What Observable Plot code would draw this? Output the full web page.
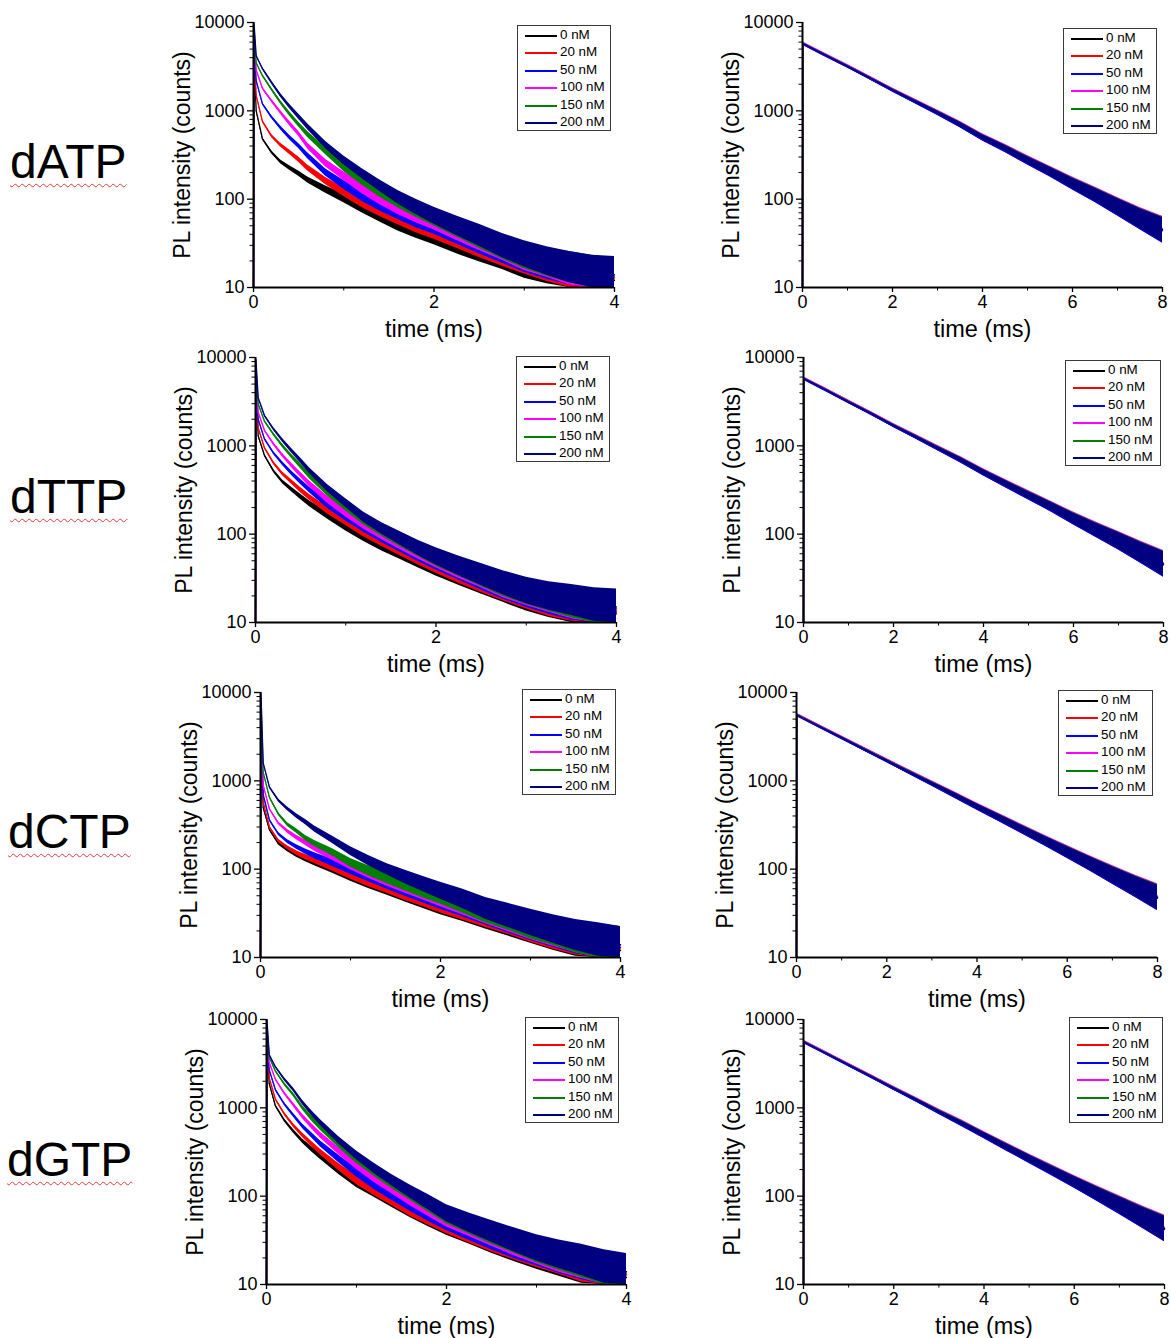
<!DOCTYPE html>
<html>
<head>
<meta charset="utf-8">
<script src="https://cdn.jsdelivr.net/npm/d3@7"></script>
<script src="https://cdn.jsdelivr.net/npm/@observablehq/plot@0.6"></script>
<style>
  body { margin: 0; background: #fff; }
  #page { position: relative; width: 1171px; height: 1338px; overflow: hidden; background: #fff;
          font-family: "Liberation Sans", Arial, sans-serif; color: #000; }
  .panel { position: absolute; }
  .panel svg { overflow: visible; max-width: none; display: block; }
  .nuc { position: absolute; font-size: 48px; line-height: 48px; white-space: nowrap;
         text-decoration: underline wavy #e03a3a; text-decoration-thickness: 1px; text-underline-offset: 5px; }
  .legend { position: absolute; box-sizing: border-box; border: 1.5px solid #3a3a3a; background: #fff; }
  .legend .row { position: absolute; left: 0; height: 16px; width: 100%; }
  .legend .sw { position: absolute; left: 7px; width: 32px; top: 8px; height: 1.6px; }
  .legend .lb { position: absolute; left: 42px; top: 0; font-size: 13.4px; line-height: 16px; white-space: nowrap; }
</style>
</head>
<body>
<div id="page"></div>
<script>
// ---------------- data ----------------
const nucleotides = ["dATP", "dTTP", "dCTP", "dGTP"];
const concentrations = ["0 nM", "20 nM", "50 nM", "100 nM", "150 nM", "200 nM"];
const seriesColors = ["#000000", "#ff0000", "#0000ff", "#ff00ff", "#008000", "#000080"];

const yMajorTicks = [10, 100, 1000, 10000];
const yMinorTicks = [20, 30, 40, 50, 60, 70, 80, 90, 200, 300, 400, 500, 600, 700, 800, 900,
                     2000, 3000, 4000, 5000, 6000, 7000, 8000, 9000];
const xMajorShort = [0, 2, 4];
const xMinorShort = [1, 3];
const xMajorLong = [0, 2, 4, 6, 8];
const xMinorLong = [1, 3, 5, 7];

// left column: time (ms) 0..4
const timeShort = [0, 0.005, 0.03, 0.1, 0.2, 0.3, 0.4, 0.5, 0.6, 0.8, 1.0, 1.2, 1.4, 1.6, 1.8, 2.0, 2.25, 2.5, 2.75, 3.0, 3.25, 3.5, 3.75, 4.0];
// spread (x / ÷) of the noisy traces
const noiseShort = [1, 1, 1.02, 1.03, 1.04, 1.05, 1.06, 1.07, 1.08, 1.1, 1.12, 1.14, 1.16, 1.19, 1.22, 1.25, 1.29, 1.33, 1.37, 1.41, 1.45, 1.5, 1.55, 1.6];

const dATP_0   = [10, 4000, 1000, 480, 340, 265, 225, 195, 165, 128, 102, 80, 64, 52, 44, 38, 31, 26, 22, 18, 16, 14, 13, 12];
const dATP_20  = [10, 6000, 1500, 760, 520, 410, 340, 280, 225, 160, 120, 92, 74, 61, 51, 44, 36, 29, 24, 20, 17, 15, 13.5, 12.5];
const dATP_50  = [10, 7000, 2200, 1200, 850, 640, 500, 400, 310, 200, 145, 108, 85, 70, 58, 50, 40, 32, 26, 21, 18, 16, 14, 13];
const dATP_100 = [10, 8000, 2900, 1800, 1300, 960, 720, 550, 400, 255, 182, 132, 100, 80, 66, 56, 44, 35, 28, 22, 19, 16, 14.5, 13];
const dATP_150 = [10, 9000, 3500, 2500, 1750, 1250, 920, 700, 540, 350, 230, 165, 122, 95, 76, 62, 48, 37, 29, 23, 19.5, 17, 15, 13.5];
const dATP_200 = [10, 10000, 4200, 3000, 2100, 1500, 1120, 860, 660, 410, 275, 195, 142, 105, 82, 65, 50, 39, 30, 24, 20, 17, 15, 14];

const dTTP_0   = [10, 4500, 1300, 780, 520, 390, 320, 265, 220, 162, 122, 94, 75, 62, 51, 42, 34, 28, 23, 19, 16.5, 15, 13.5, 12.5];
const dTTP_20  = [10, 5000, 1600, 950, 640, 480, 390, 315, 260, 185, 140, 106, 84, 68, 55, 45, 36, 29, 24, 20, 17, 15.5, 14, 13];
const dTTP_50  = [10, 6000, 2000, 1200, 830, 630, 490, 390, 315, 215, 158, 120, 93, 75, 60, 49, 39, 31, 25, 21, 18, 16, 14.5, 13.5];
const dTTP_100 = [10, 7000, 2400, 1500, 1050, 780, 600, 470, 370, 245, 175, 130, 100, 80, 64, 52, 41, 33, 26, 22, 19, 16.5, 15, 14];
const dTTP_150 = [10, 8000, 3000, 1900, 1350, 1000, 760, 590, 455, 295, 205, 145, 110, 86, 68, 54, 43, 34, 27, 22.5, 19.5, 17, 15.5, 14.5];
const dTTP_200 = [10, 9500, 3500, 2200, 1550, 1150, 880, 680, 520, 330, 225, 155, 116, 90, 70, 56, 44, 35, 28, 23, 20, 18, 16, 15];

const dCTP_0   = [10, 3500, 500, 280, 195, 165, 145, 130, 118, 99, 82, 69, 59, 51, 44, 38, 33, 28, 24, 20.5, 17.5, 15.5, 13.5, 12];
const dCTP_20  = [10, 4000, 580, 300, 210, 175, 152, 137, 125, 104, 86, 72, 62, 53, 46, 40, 34, 29, 25, 21, 18, 16, 14, 12.5];
const dCTP_50  = [10, 5000, 700, 360, 250, 205, 178, 158, 142, 118, 98, 82, 69, 59, 51, 44, 37, 31, 26, 22, 19, 16.5, 14.5, 13];
const dCTP_100 = [10, 6000, 900, 480, 330, 268, 228, 198, 172, 138, 110, 90, 75, 64, 55, 47, 39, 32, 27, 22.5, 19.5, 17, 15, 13.5];
const dCTP_150 = [10, 8000, 1250, 650, 420, 320, 270, 225, 195, 155, 118, 96, 80, 68, 58, 50, 41, 33, 28, 23, 20, 17, 15.5, 14];
const dCTP_200 = [10, 10000, 1600, 850, 600, 480, 400, 340, 285, 215, 160, 125, 100, 82, 68, 57, 46, 36, 30, 25, 21, 18, 16, 14];

const dGTP_0   = [10, 5000, 1900, 1050, 720, 540, 420, 340, 280, 195, 140, 110, 86, 68, 55, 45, 37, 30, 25, 21, 18, 15.5, 13.5, 12];
const dGTP_20  = [10, 6000, 2200, 1250, 850, 630, 490, 390, 315, 215, 152, 115, 90, 70, 57, 47, 38, 31, 26, 22, 19, 16, 14, 12.5];
const dGTP_50  = [10, 7000, 2700, 1600, 1100, 820, 620, 490, 390, 265, 185, 135, 103, 80, 63, 51, 41, 33, 27, 23, 19.5, 17, 14.5, 13];
const dGTP_100 = [10, 8000, 3300, 2100, 1450, 1080, 800, 620, 490, 325, 225, 162, 122, 92, 72, 56, 45, 36, 29, 24, 20, 17.5, 15, 13];
const dGTP_150 = [10, 9000, 3800, 2600, 1850, 1400, 1000, 760, 600, 390, 265, 190, 140, 106, 80, 61, 48, 38, 31, 25, 21, 18, 15.5, 13.5];
const dGTP_200 = [10, 10000, 4000, 2900, 2100, 1600, 1150, 870, 680, 430, 290, 205, 150, 112, 85, 64, 50, 40, 32, 26, 22, 19, 16, 14];

// right column: time (ms) 0..8, the six traces overlap almost exactly
const timeLong = [0, 0.005, 0.5, 1, 1.5, 2, 2.5, 3, 3.5, 4, 4.5, 5, 5.5, 6, 6.5, 7, 7.5, 8];
const noiseLong = [1, 1, 1.01, 1.015, 1.02, 1.025, 1.035, 1.045, 1.06, 1.07, 1.085, 1.1, 1.12, 1.15, 1.19, 1.24, 1.3, 1.38];
const dATP_long = [10, 5800, 4300, 3200, 2350, 1720, 1280, 950, 700, 500, 375, 275, 205, 150, 112, 82, 60, 45];
const dTTP_long = [10, 5800, 4300, 3150, 2330, 1700, 1260, 930, 690, 500, 370, 275, 205, 150, 112, 84, 62, 46];
const dCTP_long = [10, 5600, 4150, 3080, 2280, 1690, 1250, 930, 690, 510, 380, 282, 210, 156, 116, 86, 64, 48];
const dGTP_long = [10, 5600, 4150, 3060, 2260, 1660, 1230, 900, 670, 490, 360, 265, 196, 145, 107, 79, 58, 43];
// small per-concentration offsets seen at the edges of the overlapping traces
const longOffsets = [0.99, 0.98, 0.975, 1.03, 1.01, 1.0];

// ---------------- layout ----------------
const page = document.getElementById("page");
const FONT = "Liberation Sans, Arial, sans-serif";

function drawPanel(cfg) {
  const mL = 100, mR = 16, mT = 14, mB = 58;
  const w = cfg.R - cfg.L, h = cfg.B - cfg.T;
  const W = w + mL + mR, H = h + mT + mB;
  const marks = [];
  cfg.series.forEach((vals, i) => {
    const rows = cfg.time.map((t, j) => ({
      t,
      v: vals[j],
      lo: Math.max(10, vals[j] / cfg.noise[j]),
      hi: Math.min(10000, vals[j] * cfg.noise[j])
    }));
    marks.push(Plot.areaY(rows, {x: "t", y1: "lo", y2: "hi", fill: seriesColors[i]}));
    marks.push(Plot.lineY(rows, {x: "t", y: "v", stroke: seriesColors[i], strokeWidth: 1.3}));
  });
  marks.push(
    Plot.axisY({ticks: yMinorTicks, tickSize: 3.5, tickFormat: () => "", label: null, strokeWidth: 1}),
    Plot.axisY({ticks: yMajorTicks, tickSize: 6, tickPadding: 3, tickFormat: d => String(d), label: null,
                fontSize: 18, strokeWidth: 1.3}),
    Plot.axisX({ticks: cfg.xMinor, tickSize: 3.5, tickFormat: () => "", label: null, strokeWidth: 1}),
    Plot.axisX({ticks: cfg.xMajor, tickSize: 5, tickPadding: 3, tickFormat: d => String(d), label: null,
                fontSize: 18, strokeWidth: 1.3}),
    Plot.ruleX([0], {stroke: "#000", strokeWidth: 2}),
    Plot.ruleY([10], {stroke: "#000", strokeWidth: 2}),
    Plot.text(["PL intensity (counts)"], {text: d => d, frameAnchor: "left", textAnchor: "middle", lineAnchor: "middle",
                                          rotate: -90, dx: -71, fontSize: 23}),
    Plot.text(["time (ms)"], {text: d => d, frameAnchor: "bottom", textAnchor: "middle", lineAnchor: "middle",
                              dy: 42, fontSize: 23.5})
  );
  const svg = Plot.plot({
    width: W,
    height: H,
    marginLeft: mL, marginRight: mR, marginTop: mT, marginBottom: mB,
    x: {domain: [0, cfg.xMax]},
    y: {type: "log", domain: [10, 10000]},
    style: {fontFamily: FONT, fontSize: "18px", color: "#000", background: "transparent", overflow: "visible", maxWidth: "none"},
    marks
  });
  const div = document.createElement("div");
  div.className = "panel";
  div.style.left = (cfg.L - mL) + "px";
  div.style.top = (cfg.T - mT) + "px";
  div.style.width = W + "px";
  div.style.height = H + "px";
  div.appendChild(svg);
  page.appendChild(div);

  // legend
  const lg = document.createElement("div");
  lg.className = "legend";
  Object.assign(lg.style, {left: cfg.lg[0] + "px", top: cfg.lg[1] + "px", width: cfg.lg[2] + "px", height: cfg.lg[3] + "px"});
  concentrations.forEach((c, i) => {
    const row = document.createElement("div");
    row.className = "row";
    row.style.top = Math.round(1 + i * 17.4) + "px";
    const sw = document.createElement("div");
    sw.className = "sw";
    sw.style.background = seriesColors[i];
    const lb = document.createElement("div");
    lb.className = "lb";
    lb.textContent = c;
    row.appendChild(sw);
    row.appendChild(lb);
    lg.appendChild(row);
  });
  page.appendChild(lg);
}

const shortSets = [
  [dATP_0, dATP_20, dATP_50, dATP_100, dATP_150, dATP_200],
  [dTTP_0, dTTP_20, dTTP_50, dTTP_100, dTTP_150, dTTP_200],
  [dCTP_0, dCTP_20, dCTP_50, dCTP_100, dCTP_150, dCTP_200],
  [dGTP_0, dGTP_20, dGTP_50, dGTP_100, dGTP_150, dGTP_200]
];
const longSets = [dATP_long, dTTP_long, dCTP_long, dGTP_long];

const leftFrames  = [[253, 614, 22, 287], [255, 616, 357, 622], [260, 620, 692, 957], [266, 626, 1019, 1284]];
const rightFrames = [[802, 1162, 22, 287], [803, 1163, 357, 622], [796, 1157, 692, 957], [803, 1164, 1019, 1284]];
const leftLegends  = [[517, 25, 94, 106], [516, 356, 94, 106], [522, 689, 94, 106], [525, 1017, 94, 106]];
const rightLegends = [[1063, 28, 94, 106], [1065, 360, 96, 106], [1058, 690, 95, 106], [1069, 1017, 94, 106]];
const labelPos = [[10, 138], [10, 473], [8, 808], [7, 1136]];

nucleotides.forEach((n, k) => {
  const lab = document.createElement("div");
  lab.className = "nuc";
  lab.textContent = n;
  lab.style.left = labelPos[k][0] + "px";
  lab.style.top = labelPos[k][1] + "px";
  page.appendChild(lab);

  const [L, R, T, B] = leftFrames[k];
  drawPanel({L, R, T, B, xMax: 4, xMajor: xMajorShort, xMinor: xMinorShort,
             time: timeShort, noise: noiseShort, series: shortSets[k], lg: leftLegends[k]});

  const [L2, R2, T2, B2] = rightFrames[k];
  const base = longSets[k];
  drawPanel({L: L2, R: R2, T: T2, B: B2, xMax: 8, xMajor: xMajorLong, xMinor: xMinorLong,
             time: timeLong, noise: noiseLong,
             series: longOffsets.map(f => base.map((v, j) => j === 0 ? v : v * f)),
             lg: rightLegends[k]});
});
</script>
</body>
</html>
